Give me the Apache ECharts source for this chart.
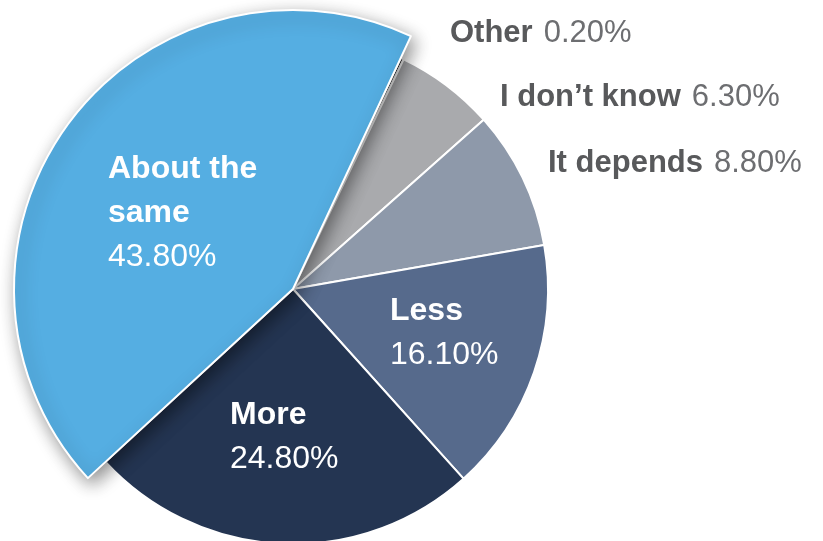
<!DOCTYPE html>
<html>
<head>
<meta charset="utf-8">
<script src="https://cdn.jsdelivr.net/npm/echarts@6/dist/echarts.min.js"></script>
<style>
html, body { margin: 0; padding: 0; background: #fff; }
#main { width: 823px; height: 541px; }
</style>
</head>
<body>
<div id="main"></div>
<script>
// data (clockwise, starting just right of the big slice)
var categories = ['Other', 'I don\u2019t know', 'It depends', 'Less', 'More', 'About the same'];
var shares = [0.2, 6.3, 8.8, 16.1, 24.8, 43.8];
var colors = ['#2e2e30', '#a9aaad', '#8e99aa', '#566a8c', '#243552', '#55aee2'];
var outside = [true, true, true, false, false, false];
var bigSlice = 5;

// where the labels sit (left edge, vertical middle)
var labelX = [450, 500, 548, 390, 230, 108];
var labelY = [33, 97, 163, 333, 437, 213];

var myChart = echarts.init(document.getElementById('main'));

function fmt(p) {
    var i = p.dataIndex;
    var name = outside[i] ? p.name : p.name.replace('the ', 'the\n');
    return '{b|' + name + '}' + (outside[i] ? '' : '\n') + '{v|' + p.value.toFixed(2) + '%}';
}

function labelFor(i) {
    var dark = outside[i];
    return {
        show: true,
        position: dark ? 'outside' : 'inside',
        formatter: fmt,
        rich: {
            b: { fontFamily: 'Liberation Sans', fontSize: dark ? 31 : 32, fontWeight: 'bold', lineHeight: 44, color: dark ? '#58595b' : '#ffffff' },
            v: { fontFamily: 'Liberation Sans', fontSize: dark ? 31 : 32, fontWeight: 'normal', lineHeight: 44, padding: dark ? [0, 0, 0, 11] : 0, color: dark ? '#6d6e71' : '#ffffff' }
        }
    };
}

function placeLabel(p) {
    return { x: labelX[p.dataIndex], y: labelY[p.dataIndex], align: 'left', verticalAlign: 'middle' };
}

var baseData = categories.map(function (c, i) {
    return {
        name: c,
        value: shares[i],
        itemStyle: { color: colors[i] },
        label: i === bigSlice ? { show: false } : labelFor(i),
        labelLine: { show: false }
    };
});

var bigData = categories.map(function (c, i) {
    if (i !== bigSlice) {
        return { name: c, value: shares[i], itemStyle: { color: 'rgba(0,0,0,0)', borderWidth: 0 }, label: { show: false }, labelLine: { show: false } };
    }
    return {
        name: c,
        value: shares[i],
        itemStyle: {
            color: colors[i],
            borderColor: '#fff',
            borderWidth: 2,
            shadowBlur: 18,
            shadowColor: 'rgba(0,0,0,0.45)',
            shadowOffsetX: 4,
            shadowOffsetY: 6
        },
        label: labelFor(i),
        labelLine: { show: false }
    };
});

var option = {
    animation: false,
    series: [
        {
            type: 'pie',
            center: [293, 289],
            radius: [0, 255],
            startAngle: 65,
            clockwise: true,
            avoidLabelOverlap: false,
            silent: true,
            itemStyle: { borderColor: '#fff', borderWidth: 2 },
            labelLayout: placeLabel,
            data: baseData
        },
        {
            type: 'pie',
            z: 3,
            center: [293, 289],
            radius: [0, 279],
            startAngle: 65,
            clockwise: true,
            avoidLabelOverlap: false,
            silent: true,
            labelLayout: placeLabel,
            data: bigData
        }
    ]
};

myChart.setOption(option);
</script>
</body>
</html>
